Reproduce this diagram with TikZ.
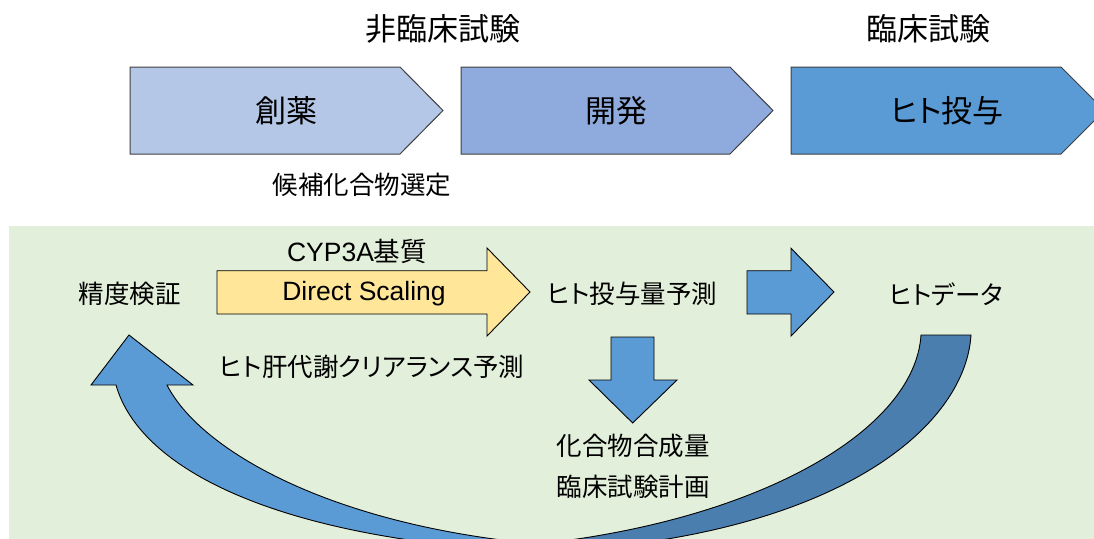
\documentclass[tikz,border=0pt]{standalone}
\usepackage{fontspec}
\setmainfont{Liberation Sans}
\newfontfamily\jp[RawFeature=+palt]{Noto Sans CJK JP}
\definecolor{greenbg}{HTML}{E2EFDA}
\definecolor{chA}{HTML}{B4C7E7}
\definecolor{chB}{HTML}{8FAADC}
\definecolor{chC}{HTML}{5B9BD5}
\definecolor{arrblue}{HTML}{5B9BD5}
\definecolor{arrdark}{HTML}{4A7EAF}
\definecolor{arryellow}{HTML}{FFE699}
\begin{document}
\begin{tikzpicture}[x=1pt,y=-1pt,
  chev/.style={draw=black!75,line width=1pt},
  blk/.style={draw=black,line width=0.9pt,line join=miter},
  big/.style={inner sep=0pt,font=\jp\fontsize{31}{36}\selectfont},
  mid/.style={inner sep=0pt,font=\jp\fontsize{25.5}{30}\selectfont},
  lat/.style={inner sep=0pt,font=\fontsize{26.5}{30}\selectfont}]
\clip (0,0) rectangle (1094,538);
\fill[white] (0,0) rectangle (1094,538);
\fill[greenbg] (9,226) rectangle (1100,545);
% chevrons
\draw[chev,fill=chA] (130,67) -- (400,67) -- (443,110.5) -- (400,154) -- (130,154) -- cycle;
\draw[chev,fill=chB] (461,67) -- (730,67) -- (773,110.5) -- (730,154) -- (461,154) -- cycle;
\draw[chev,fill=chC] (791,67) -- (1061,67) -- (1104.5,110.5) -- (1061,154) -- (791,154) -- cycle;
\node[big] (t1) at (443,29) {非臨床試験};
\node[big] (t2) at (928,29) {臨床試験};
\node[big] (c1) at (286,111) {創薬};
\node[big] (c2) at (616,111) {開発};
\node[big] (c3) at (947,111) {ヒト投与};
\node[mid] (sel) at (362,185) {候補化合物選定};
% block arrows
\draw[blk,fill=arryellow] (217,270.7) -- (487,270.7) -- (487,248) -- (530,292) -- (487,336) -- (487,314) -- (217,314) -- cycle;
\draw[blk,fill=arrblue] (747,270.7) -- (791,270.7) -- (791,248.3) -- (834,292) -- (791,336) -- (791,314) -- (747,314) -- cycle;
\draw[blk,fill=arrblue] (611,337) -- (654,337) -- (654,380) -- (677,380) -- (632.7,423) -- (589,380) -- (611,380) -- cycle;
% curved arrows
\draw[blk,fill=arrblue] (129,335) -- (193,385) -- (167,385)
  .. controls (200,450) and (330,525) .. (538,544) -- (538,552)
  .. controls (280,540) and (140,470) .. (116,385) -- (91,385) -- cycle;
\draw[blk,fill=arrdark] (921,335) -- (971,335)
  .. controls (965,430) and (830,540) .. (538,552) -- (538,544)
  .. controls (760,520) and (915,430) .. (921,335) -- cycle;
% labels in green area
\node[mid] (acc) at (129.5,294) {精度検証};
\node[lat] (cyp) at (357,251) {CYP3A{\jp 基質}};
\node[lat] (ds) at (364,294) {Direct Scaling};
\node[mid] (clr) at (372,367) {ヒト肝代謝クリアランス予測};
\node[mid] (dose) at (632,294) {ヒト投与量予測};
\node[mid] (hd) at (946,294) {ヒトデータ};
\node[mid] (syn) at (633,446) {化合物合成量};
\node[mid] (plan) at (633,487) {臨床試験計画};
\end{tikzpicture}
\end{document}
